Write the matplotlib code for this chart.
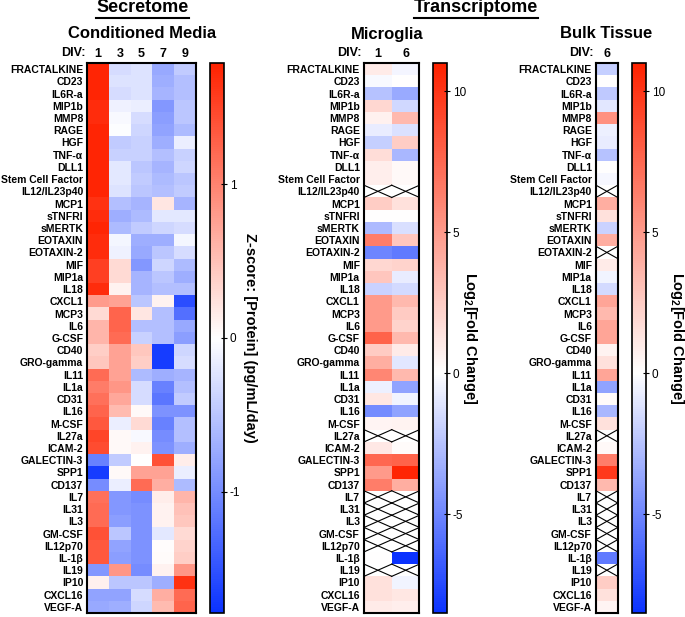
import numpy as np
import matplotlib.pyplot as plt
from matplotlib.colors import LinearSegmentedColormap, Normalize
from matplotlib.lines import Line2D

plt.rcParams['font.family'] = ['Liberation Sans', 'DejaVu Sans']
plt.rcParams['mathtext.fontset'] = 'custom'
plt.rcParams['mathtext.rm'] = 'Liberation Sans'
plt.rcParams['mathtext.bf'] = 'Liberation Sans:bold'
plt.rcParams['axes.unicode_minus'] = False

nan = np.nan

analytes = ['FRACTALKINE', 'CD23', 'IL6R-a', 'MIP1b', 'MMP8', 'RAGE', 'HGF',
            'TNF-α', 'DLL1', 'Stem Cell Factor', 'IL12/IL23p40', 'MCP1',
            'sTNFRI', 'sMERTK', 'EOTAXIN', 'EOTAXIN-2', 'MIF', 'MIP1a', 'IL18',
            'CXCL1', 'MCP3', 'IL6', 'G-CSF', 'CD40', 'GRO-gamma', 'IL11',
            'IL1a', 'CD31', 'IL16', 'M-CSF', 'IL27a', 'ICAM-2', 'GALECTIN-3',
            'SPP1', 'CD137', 'IL7', 'IL31', 'IL3', 'GM-CSF', 'IL12p70', 'IL-1β',
            'IL19', 'IP10', 'CXCL16', 'VEGF-A']

# secretome z-scores, DIV 1, 3, 5, 7, 9
div_media = ['1', '3', '5', '7', '9']
zscore = [
    [1.75, -0.30, -0.25, -0.75, -0.45],
    [1.75, -0.25, -0.25, -0.70, -0.55],
    [1.75, -0.30, -0.25, -0.65, -0.55],
    [1.70, -0.12, -0.15, -0.90, -0.50],
    [1.70, -0.05, -0.30, -0.85, -0.50],
    [1.75, -0.02, -0.35, -0.80, -0.60],
    [1.75, -0.45, -0.40, -0.70, -0.15],
    [1.75, -0.40, -0.40, -0.55, -0.40],
    [1.75, -0.20, -0.50, -0.65, -0.35],
    [1.75, -0.20, -0.45, -0.60, -0.50],
    [1.75, -0.25, -0.50, -0.55, -0.45],
    [1.65, -0.55, -0.65, 0.20, -0.65],
    [1.70, -0.70, -0.60, -0.20, -0.20],
    [1.75, -0.60, -0.45, -0.35, -0.30],
    [1.70, -0.08, -0.70, -0.70, -0.08],
    [1.70, -0.12, -0.75, -0.50, -0.30],
    [1.55, 0.30, -0.90, -0.35, -0.60],
    [1.55, 0.30, -0.65, -0.50, -0.70],
    [1.70, 0.10, -0.65, -0.55, -0.55],
    [0.80, 0.75, -0.50, 0.10, -1.55],
    [0.30, 1.25, 0.20, -0.55, -1.25],
    [0.60, 1.25, -0.55, -0.55, -0.75],
    [0.60, 1.20, -0.40, -0.55, -0.85],
    [0.40, 0.75, 0.45, -1.70, -0.35],
    [0.45, 0.75, 0.40, -1.70, -0.30],
    [1.20, 0.75, -0.60, -0.70, -0.65],
    [1.05, 0.85, -0.30, -1.10, -0.55],
    [1.15, 0.70, -0.30, -1.20, -0.45],
    [1.25, 0.55, 0.05, -0.95, -0.95],
    [1.35, -0.15, 0.30, -1.10, -0.55],
    [1.50, 0.05, -0.05, -1.00, -0.55],
    [1.45, 0.05, 0.10, -0.95, -0.70],
    [-1.10, -0.45, 0.00, 1.40, 0.15],
    [-1.70, 0.05, 0.75, 0.75, -0.15],
    [-1.00, -0.15, 1.20, 0.65, -0.60],
    [1.15, -0.90, -1.00, 0.15, 0.60],
    [1.20, -0.90, -0.95, 0.10, 0.50],
    [1.20, -0.85, -0.95, 0.10, 0.45],
    [1.40, -0.50, -0.95, -0.20, 0.30],
    [1.35, -0.80, -0.95, 0.02, 0.35],
    [1.35, -0.85, -0.95, 0.03, 0.40],
    [-0.90, 0.85, -1.00, 0.10, 0.85],
    [0.12, -0.50, -0.50, -0.70, 1.65],
    [-0.80, -0.80, -0.30, 0.65, 1.20],
    [-0.75, -0.70, -0.35, 0.55, 1.25],
]

# microglia log2 fold change, DIV 1, 6
div_micro = ['1', '6']
micro = [
    [1.0, -0.4], [-0.2, 0.1], [-2.5, -3.5], [2.0, -1.6], [0.7, 3.5],
    [-0.8, -1.2], [-2.0, 2.5], [1.7, -3.0], [0.8, 0.3], [0.8, 0.3],
    [nan, nan], [2.5, 1.5], [0.1, 0.1], [-2.8, -1.3], [6.5, 2.8],
    [-5.0, -5.5], [2.0, 2.2], [2.8, -0.8], [-1.8, -1.5], [5.0, 3.5],
    [5.0, 2.6], [5.0, 2.2], [7.8, 3.5], [2.6, 1.0], [4.0, -1.0],
    [6.0, 3.5], [-0.6, -3.8], [1.2, -0.5], [-4.8, -3.8], [0.5, 0.6],
    [nan, nan], [1.1, 0.2], [7.5, 7.8], [5.0, 10.8], [6.5, 4.0],
    [nan, nan], [nan, nan], [nan, nan], [nan, nan], [nan, nan],
    [0.05, -8.5], [nan, nan], [1.5, -0.5], [1.5, 1.2], [1.0, 0.8],
]

# bulk tissue log2 fold change, DIV 6
div_bulk = ['6']
bulk = [
    [-2.0], [0.1], [-2.2], [-1.0], [5.5], [-0.6], [-0.8], [-2.5], [0.1],
    [-0.3], [nan], [4.0], [1.5], [-1.8], [4.0], [nan], [1.0], [-0.5],
    [-1.5], [4.5], [3.5], [4.5], [4.5], [0.6], [1.5], [4.5], [-3.8],
    [0.2], [-3.0], [1.5], [nan], [0.3], [6.5], [9.8], [3.5],
    [nan], [nan], [nan], [nan], [nan], [-5.5], [nan], [2.5], [1.5], [0.5],
]

z_lim = 1.789
fc_min, fc_max = -8.5, 11.0

blue, red = '#0A32FF', '#FF2200'
cmap_z = LinearSegmentedColormap.from_list('z', [blue, 'white', red])
mid = -fc_min / (fc_max - fc_min)
cmap_fc = LinearSegmentedColormap.from_list('fc', [(0, blue), (mid, 'white'), (1, red)])

W, H = 685, 617
fig = plt.figure(figsize=(W / 100, H / 100), dpi=100)


def rect(x0, y0, x1, y1):
    return [x0 / W, 1 - y1 / H, (x1 - x0) / W, (y1 - y0) / H]


def heat(ax, data, cols, cmap, norm):
    arr = np.array(data, float)
    nr, nc = arr.shape
    mesh = ax.pcolormesh(np.ma.masked_invalid(arr), cmap=cmap, norm=norm)
    ax.set_xlim(0, nc)
    ax.set_ylim(nr, 0)
    for i, j in zip(*np.where(np.isnan(arr))):
        ax.plot([j, j + 1], [i, i + 1], color='black', lw=0.8)
        ax.plot([j, j + 1], [i + 1, i], color='black', lw=0.8)
    ax.set_yticks(np.arange(nr) + 0.5, analytes, fontsize=7.5, fontweight='bold')
    ax.tick_params(axis='y', length=0, pad=3)
    ax.xaxis.tick_top()
    ax.set_xticks(np.arange(nc) + 0.5, cols, fontsize=9, fontweight='bold')
    ax.tick_params(axis='x', length=0, pad=2)
    for s in ax.spines.values():
        s.set_linewidth(1.5)
    return mesh


def cbar(mesh, x0, x1, ticks, label, lx):
    cax = fig.add_axes(rect(x0, 63, x1, 613))
    cb = fig.colorbar(mesh, cax=cax)
    cb.set_ticks(ticks)
    cb.ax.tick_params(labelsize=8.5, length=4, width=0.8, direction='inout', pad=2)
    cb.outline.set_linewidth(1.2)
    fig.text(lx / W, 1 - 338 / H, label, rotation=-90, ha='center', va='center',
             fontsize=10.5, fontweight='bold')


top, bot = 63, 613

ax1 = fig.add_axes(rect(87.3, top, 195.7, bot))
m1 = heat(ax1, zscore, div_media, cmap_z, Normalize(-z_lim, z_lim))
cbar(m1, 210, 224, [-1, 0, 1], 'Z-score: [Protein] (pg/mL/day)', 250)

ax2 = fig.add_axes(rect(364, top, 419.5, bot))
m2 = heat(ax2, micro, div_micro, cmap_fc, Normalize(fc_min, fc_max))
cbar(m2, 433, 447, [-5, 0, 5, 10], r'Log$_{\mathbf{2}}$[Fold Change]', 470)

ax3 = fig.add_axes(rect(596, top, 617.7, bot))
m3 = heat(ax3, bulk, div_bulk, cmap_fc, Normalize(fc_min, fc_max))
cbar(m3, 631.7, 646, [-5, 0, 5, 10], r'Log$_{\mathbf{2}}$[Fold Change]', 677)

for x in (87.3, 364, 596):
    fig.text((x - 2) / W, 1 - 53 / H, 'DIV:', ha='right', va='center',
             fontsize=9, fontweight='bold')

titles = []
for txt, x in (('Secretome', 142.5), ('Transcriptome', 476)):
    titles.append(fig.text(x / W, 1 - 8 / H, txt, ha='center', va='center',
                           fontsize=13, fontweight='bold'))
for txt, x in (('Conditioned Media', 142.5), ('Microglia', 387), ('Bulk Tissue', 606)):
    fig.text(x / W, 1 - 34 / H, txt, ha='center', va='center',
             fontsize=12, fontweight='bold')

fig.canvas.draw()
r = fig.canvas.get_renderer()
for t in titles:
    bb = t.get_window_extent(r)
    y = bb.y0 - 1
    fig.add_artist(Line2D([bb.x0 / W, bb.x1 / W], [y / H, y / H], color='black', lw=1.5))

fig.savefig('out.png', dpi=100)
